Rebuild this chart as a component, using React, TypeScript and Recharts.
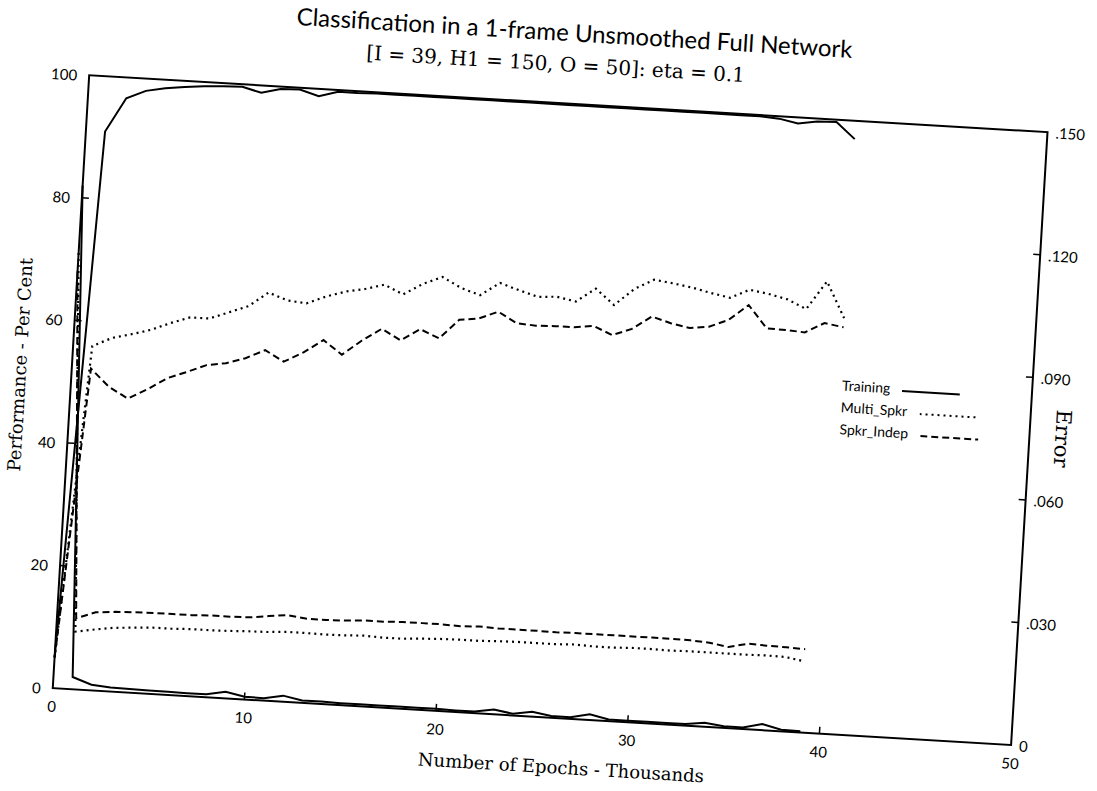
import { LineChart, Line, XAxis, YAxis, ReferenceArea, Legend } from 'recharts'

// epochs in thousands
const epochs = [
  0, 1, 2, 3, 4, 5, 6, 7, 8, 9, 10, 11, 12, 13, 14, 15, 16, 17, 18, 19, 20,
  21, 22, 23, 24, 25, 26, 27, 28, 29, 30, 31, 32, 33, 34, 35, 36, 37, 38, 39, 40,
]

// performance, per cent (left axis)
const trainingPerf = [
  5, 91, 96.6, 98, 98.6, 99, 99.3, 99.5, 99.6, 98.8, 99.6, 99.7, 98.8, 99.7, 99.7, 99.8,
  99.8, 99.8, 99.8, 99.8, 99.8, 99.8, 99.8, 99.8, 99.8, 99.8, 99.8, 99.8, 99.8, 99.8, 99.8,
  99.8, 99.8, 99.8, 99.8, 99.8, 99.6, 99.0, 99.5, 99.6, 97.0,
]
const multiSpkrPerf = [
  5, 56, 57.5, 58.3, 59.2, 60.5, 61.6, 61.6, 62.8, 64, 66.4, 65.3, 65.0, 66.3, 67.3, 67.9,
  68.8, 67.4, 69.3, 70.6, 69.0, 68.0, 70.2, 69.2, 68.3, 68.5, 67.9, 70.2, 67.7, 70.5, 72.2,
  71.8, 71.3, 70.6, 70.0, 71.5, 71.0, 70.3, 68.9, 73.6, 67.8,
]
const spkrIndepPerf = [
  5, 52.3, 49.5, 47.8, 49.5, 51.5, 52.7, 54.0, 54.5, 55.5, 57.0, 55.3, 57.0, 59.2, 57.0, 59.5,
  61.6, 59.9, 61.9, 60.6, 63.8, 64.2, 65.5, 63.8, 63.6, 63.7, 63.7, 64.1, 62.8, 64.0, 66.2,
  65.3, 64.7, 65.1, 66.4, 69.0, 65.4, 65.3, 65.1, 66.8, 66.3,
]

// error (right axis), recorded up to 39k epochs
const trainingErr = [
  0.123, 0.003, 0.0014, 0.001, 0.0009, 0.0008, 0.0008, 0.0007, 0.0007, 0.0016, 0.0007,
  0.0006, 0.0015, 0.0006, 0.0006, 0.0005, 0.0005, 0.0005, 0.0005, 0.0005, 0.0005, 0.0004,
  0.0004, 0.0012, 0.0004, 0.0012, 0.0004, 0.0004, 0.0014, 0.0004, 0.0004, 0.0004, 0.0004,
  0.0004, 0.001, 0.0004, 0.0004, 0.0015, 0.0004, 0.0003,
]
const multiSpkrErr = [
  0.1065, 0.0141, 0.0149, 0.0156, 0.0159, 0.0162, 0.0162, 0.0164, 0.0164, 0.0165, 0.0167,
  0.0168, 0.0171, 0.0171, 0.017, 0.0171, 0.0173, 0.0171, 0.0171, 0.0174, 0.0176, 0.0177,
  0.0177, 0.0179, 0.018, 0.018, 0.018, 0.0182, 0.018, 0.018, 0.0182, 0.0182, 0.0181, 0.0182,
  0.0182, 0.0182, 0.0182, 0.0183, 0.0182, 0.0174,
]
const spkrIndepErr = [
  0.102, 0.0174, 0.0191, 0.0195, 0.0197, 0.0198, 0.0198, 0.0198, 0.02, 0.02, 0.0201, 0.0207,
  0.0212, 0.0206, 0.0206, 0.0207, 0.021, 0.021, 0.0212, 0.0212, 0.0212, 0.021, 0.0212, 0.021,
  0.021, 0.021, 0.0209, 0.021, 0.021, 0.021, 0.021, 0.021, 0.021, 0.0209, 0.0206, 0.0198,
  0.0209, 0.0207, 0.0206, 0.0204,
]

const xTicks = [0, 10, 20, 30, 40, 50]
const perfTicks = [0, 20, 40, 60, 80, 100]
const errTicks = [0, 0.03, 0.06, 0.09, 0.12, 0.15]

const data = epochs.map((epoch, i) => ({
  epoch,
  trainingPerf: trainingPerf[i],
  multiSpkrPerf: multiSpkrPerf[i],
  spkrIndepPerf: spkrIndepPerf[i],
  trainingErr: trainingErr[i],
  multiSpkrErr: multiSpkrErr[i],
  spkrIndepErr: spkrIndepErr[i],
}))

const DOTTED = '2 4'
const DASHED = '7 4'
const legendNames = ['Training', 'Multi_Spkr', 'Spkr_Indep']
const dashByName: Record<string, string> = {
  Training: '',
  Multi_Spkr: DOTTED,
  Spkr_Indep: DASHED,
}

const sans = 'Lato, "Open Sans", sans-serif'
const serif = '"DejaVu Serif", "Liberation Serif", serif'
const tickFont = { fontFamily: sans, fontSize: 15, fill: '#000' }

const fmtErr = (v: number) => (v === 0 ? '0' : v.toFixed(3).replace(/^0/, ''))

const LeftTick = ({ x, y, payload }: any) => (
  <g>
    {payload.value > 0 && payload.value < 100 && (
      <line x1={x + 12} x2={x + 19} y1={y} y2={y} stroke="#000" strokeWidth={1.5} />
    )}
    <text x={x} y={y} textAnchor="end" dominantBaseline="central" {...tickFont}>
      {payload.value}
    </text>
  </g>
)

const RightTick = ({ x, y, payload }: any) => (
  <g>
    {payload.value > 0 && payload.value < 0.15 && (
      <line x1={x - 8} x2={x - 15} y1={y} y2={y} stroke="#000" strokeWidth={1.5} />
    )}
    <text x={x} y={y} textAnchor="start" dominantBaseline="central" {...tickFont}>
      {fmtErr(payload.value)}
    </text>
  </g>
)

const BottomTick = ({ x, y, payload }: any) => (
  <g>
    {payload.value > 0 && payload.value < 50 && (
      <line x1={x} x2={x} y1={y - 13} y2={y - 20} stroke="#000" strokeWidth={1.5} />
    )}
    <text x={x} y={y} dy="0.71em" textAnchor="middle" {...tickFont}>
      {payload.value}
    </text>
  </g>
)

const renderLegend = ({ payload }: any) => {
  const items = legendNames
    .map((name) => (payload || []).find((p: any) => p.value === name))
    .filter(Boolean)
  return (
    <div style={{ fontFamily: sans, fontSize: 14, color: '#000' }}>
      {items.map((entry: any) => (
        <div key={entry.value} style={{ display: 'flex', alignItems: 'center', height: 22 }}>
          <span>{entry.value}</span>
          <svg width={60} height={10} style={{ marginLeft: 12, marginTop: 6 }}>
            <line
              x1={0}
              x2={58}
              y1={5}
              y2={5}
              stroke="#000"
              strokeWidth={2}
              strokeDasharray={dashByName[entry.value] || undefined}
            />
          </svg>
        </div>
      ))}
    </div>
  )
}

export default function App() {
  return (
    <div
      style={{
        position: 'fixed',
        left: 0,
        top: 0,
        width: '100vw',
        height: '100vh',
        overflow: 'hidden',
        background: '#fff',
      }}
    >
      <div
        style={{
          position: 'absolute',
          left: 8,
          top: 8,
          width: 1081,
          height: 775,
          transform: 'rotate(3.4deg)',
          transformOrigin: '50% 50%',
        }}
      >
        <div
          style={{
            position: 'absolute',
            left: 545,
            top: 23,
            transform: 'translate(-50%, -50%)',
            whiteSpace: 'nowrap',
            fontFamily: sans,
            fontSize: 24,
          }}
        >
          Classification in a 1-frame Unsmoothed Full Network
        </div>
        <div
          style={{
            position: 'absolute',
            left: 528,
            top: 56,
            transform: 'translate(-50%, -50%)',
            whiteSpace: 'nowrap',
            fontFamily: serif,
            fontSize: 20,
          }}
        >
          [I = 39, H1 = 150, O = 50]: eta = 0.1
        </div>
        <div
          style={{
            position: 'absolute',
            left: 11,
            top: 388,
            transform: 'translate(-50%, -50%) rotate(-90deg)',
            whiteSpace: 'nowrap',
            fontFamily: serif,
            fontSize: 18,
          }}
        >
          Performance - Per Cent
        </div>
        <div
          style={{
            position: 'absolute',
            left: 1056,
            top: 400,
            transform: 'translate(-50%, -50%) rotate(90deg)',
            whiteSpace: 'nowrap',
            fontFamily: serif,
            fontSize: 21,
          }}
        >
          Error
        </div>
        <div
          style={{
            position: 'absolute',
            left: 575,
            top: 758,
            transform: 'translate(-50%, -50%)',
            whiteSpace: 'nowrap',
            fontFamily: serif,
            fontSize: 18,
          }}
        >
          Number of Epochs - Thousands
        </div>
        <LineChart
          width={1081}
          height={775}
          data={data}
          margin={{ top: 95, right: 8, bottom: 16, left: 13 }}
        >
          <XAxis
            dataKey="epoch"
            type="number"
            domain={[0, 50]}
            ticks={xTicks}
            height={50}
            axisLine={false}
            tickLine={false}
            tickSize={0}
            tickMargin={13}
            tick={<BottomTick />}
          />
          <YAxis
            yAxisId="left"
            domain={[0, 100]}
            ticks={perfTicks}
            width={50}
            axisLine={false}
            tickLine={false}
            tickSize={0}
            tickMargin={12}
            tick={<LeftTick />}
          />
          <YAxis
            yAxisId="right"
            orientation="right"
            domain={[0, 0.15]}
            ticks={errTicks}
            width={50}
            axisLine={false}
            tickLine={false}
            tickSize={0}
            tickMargin={8}
            tick={<RightTick />}
          />
          <ReferenceArea
            yAxisId="left"
            x1={0}
            x2={50}
            y1={0}
            y2={100}
            fill="none"
            stroke="#000"
            strokeWidth={2}
          />
          <Legend
            layout="horizontal"
            verticalAlign="middle"
            align="center"
            wrapperStyle={{ position: 'absolute', left: 833, top: 348, width: 170 }}
            content={renderLegend}
          />
          <Line yAxisId="left" dataKey="trainingPerf" name="Training" stroke="#000" strokeWidth={2} dot={false} isAnimationActive={false} />
          <Line yAxisId="left" dataKey="multiSpkrPerf" name="Multi_Spkr" stroke="#000" strokeWidth={2.2} strokeDasharray={DOTTED} dot={false} isAnimationActive={false} />
          <Line yAxisId="left" dataKey="spkrIndepPerf" name="Spkr_Indep" stroke="#000" strokeWidth={2} strokeDasharray={DASHED} dot={false} isAnimationActive={false} />
          <Line yAxisId="right" dataKey="trainingErr" name="Training error" legendType="none" stroke="#000" strokeWidth={2} dot={false} isAnimationActive={false} />
          <Line yAxisId="right" dataKey="multiSpkrErr" name="Multi_Spkr error" legendType="none" stroke="#000" strokeWidth={2.2} strokeDasharray={DOTTED} dot={false} isAnimationActive={false} />
          <Line yAxisId="right" dataKey="spkrIndepErr" name="Spkr_Indep error" legendType="none" stroke="#000" strokeWidth={2} strokeDasharray={DASHED} dot={false} isAnimationActive={false} />
        </LineChart>
      </div>
    </div>
  )
}
